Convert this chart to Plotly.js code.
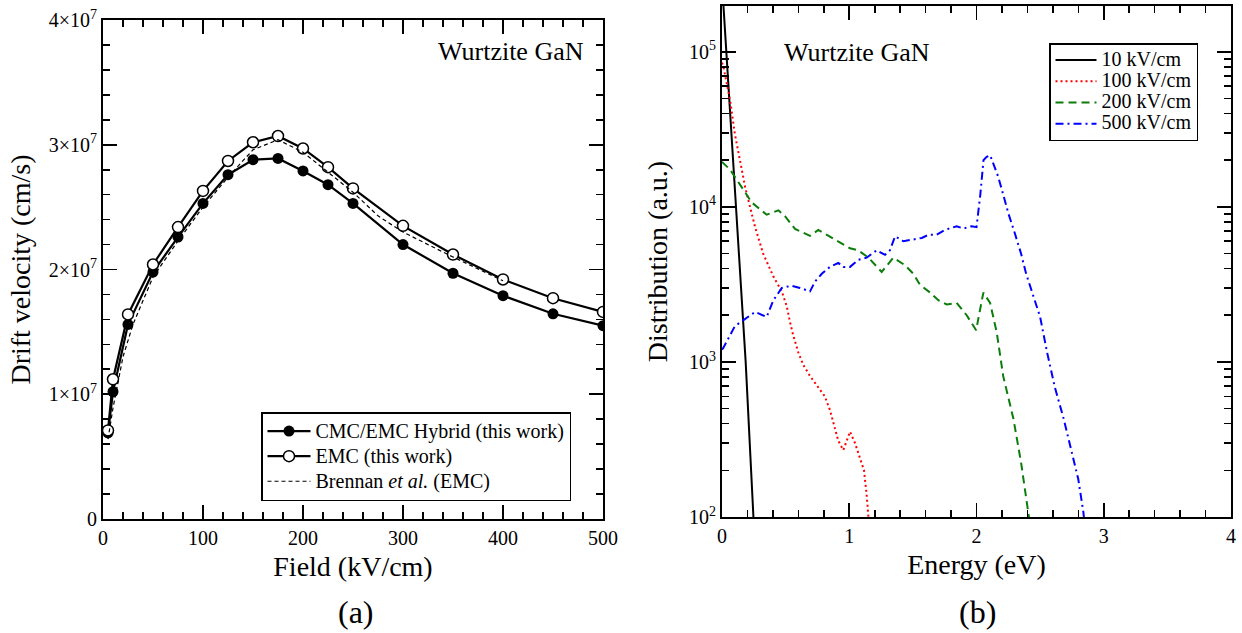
<!DOCTYPE html>
<html><head><meta charset="utf-8">
<script src="https://cdn.plot.ly/plotly-3.0.1.min.js"></script>
<style>body{margin:0;background:#fff}#chart{width:1242px;height:633px}</style>
</head><body><div id="chart"></div>
<script>
// ---- Panel (a): drift velocity vs field ----
const fieldA = [5,10,25,50,75,100,125,150,175,200,225,250,300,350,400,450,500];
const hybridVel = [6.9e6,10.2e6,15.6e6,19.8e6,22.6e6,25.3e6,27.6e6,28.8e6,28.9e6,27.9e6,26.8e6,25.3e6,22.0e6,19.7e6,17.9e6,16.45e6,15.5e6];
const emcVel = [7.1e6,11.2e6,16.4e6,20.4e6,23.4e6,26.3e6,28.7e6,30.2e6,30.7e6,29.7e6,28.2e6,26.5e6,23.5e6,21.2e6,19.2e6,17.7e6,16.6e6];
const fieldBrennan = [5,10,20,30,50,75,100,125,150,175,200,225,250,275,300,350,385,400];
const brennanVel = [6.4e6,8.9e6,13.0e6,15.6e6,19.4e6,22.3e6,25.0e6,27.4e6,29.6e6,30.4e6,29.4e6,27.8e6,26.2e6,24.3e6,23.0e6,21.0e6,19.7e6,19.1e6];
const velTickVals = [0,1e7,2e7,3e7,4e7];
const velTickText = ['0','1×10<sup>7</sup>','2×10<sup>7</sup>','3×10<sup>7</sup>','4×10<sup>7</sup>'];
const fieldTickVals = [0,100,200,300,400,500];
const namesA = ['CMC/EMC Hybrid (this work)','EMC (this work)','Brennan <i>et al.</i> (EMC)'];

// ---- Panel (b): energy distribution ----
const e10 = [0,0.034,0.076,0.11,0.141,0.186,0.247,0.26];
const d10 = [2.8e5,1.0e5,2.95e4,1.0e4,4.6e3,1.0e3,1.0e2,70];
const e100 = [0,0.01,0.063,0.101,0.141,0.181,0.22,0.26,0.323,0.404,0.47,0.508,0.535,0.56,0.60,0.639,0.692,0.757,0.808,0.848,0.875,0.914,0.953,0.993,1.006,1.045,1.085,1.116,1.137,1.151,1.16];
const d100 = [8.5e4,8.1e4,4.9e4,2.95e4,2.0e4,1.35e4,1.0e4,7.4e3,5.0e3,3.55e3,2.85e3,2.3e3,1.8e3,1.48e3,1.15e3,955,810,690,600,490,410,310,270,325,355,300,240,200,138,105,80];
const e200 = [0,0.063,0.168,0.232,0.351,0.444,0.495,0.574,0.692,0.757,0.838,0.914,1.006,1.07,1.151,1.255,1.346,1.438,1.504,1.555,1.635,1.70,1.766,1.844,1.923,1.997,2.054,2.107,2.159,2.21,2.29,2.35,2.41,2.42];
const d200 = [1.95e4,1.74e4,1.29e4,1.07e4,8.9e3,9.5e3,8.7e3,7.2e3,6.5e3,7.1e3,6.5e3,6.0e3,5.4e3,5.25e3,4.7e3,3.8e3,4.7e3,4.2e3,3.7e3,3.15e3,2.8e3,2.5e3,2.35e3,2.4e3,2.0e3,1.6e3,2.8e3,2.4e3,1.55e3,810,430,225,105,90];
const e500 = [0,0.01,0.101,0.182,0.26,0.351,0.404,0.47,0.545,0.613,0.692,0.731,0.784,0.848,0.914,0.953,1.006,1.07,1.137,1.216,1.281,1.32,1.36,1.425,1.504,1.57,1.622,1.687,1.752,1.844,1.897,1.962,2.0,2.03,2.055,2.08,2.107,2.17,2.21,2.25,2.30,2.35,2.39,2.44,2.50,2.555,2.615,2.685,2.745,2.80,2.84,2.85];
const d500 = [1.2e3,1.23e3,1.7e3,1.9e3,2.1e3,1.95e3,2.5e3,3.0e3,3.1e3,3.0e3,2.85e3,3.3e3,3.7e3,4.1e3,4.35e3,4.1e3,4.1e3,4.55e3,4.7e3,5.25e3,4.9e3,5.25e3,6.45e3,6.0e3,6.2e3,6.3e3,6.6e3,6.6e3,7.1e3,7.5e3,7.25e3,7.5e3,7.4e3,1.2e4,2.0e4,2.1e4,2.15e4,1.57e4,1.2e4,9.1e3,6.8e3,5.0e3,3.7e3,2.8e3,1.95e3,1.15e3,690,430,265,175,107,90];
const namesB = ['10 kV/cm','100 kV/cm','200 kV/cm','500 kV/cm'];
const energyTickVals = [0,1,2,3,4];
const distTickVals = [100,1000,10000,100000];
const distTickText = ['10<sup>2</sup>','10<sup>3</sup>','10<sup>4</sup>','10<sup>5</sup>'];
const distMinorVals = [200,300,400,500,600,700,800,900,2000,3000,4000,5000,6000,7000,8000,9000,20000,30000,40000,50000,60000,70000,80000,90000,200000];

const SERIF = 'Liberation Serif, Times New Roman, serif';
const W = 1242, H = 633;
const big = s => '<span style="font-size:20px">' + s + '</span>';

const traces = [
  {x: fieldA, y: hybridVel, mode:'lines+markers', name:big(namesA[0]), xaxis:'x', yaxis:'y', legend:'legend',
   line:{color:'#000', width:2.2}, marker:{symbol:'circle', size:11, color:'#000'}},
  {x: fieldA, y: emcVel, mode:'lines+markers', name:big(namesA[1]), xaxis:'x', yaxis:'y', legend:'legend',
   line:{color:'#000', width:2.2}, marker:{symbol:'circle', size:11, color:'#fff', line:{color:'#000', width:1.5}}},
  {x: fieldBrennan, y: brennanVel, mode:'lines', name:big(namesA[2]), xaxis:'x', yaxis:'y', legend:'legend',
   line:{color:'#000', width:1.2, dash:'4px,3px'}},
  {x: e10, y: d10, mode:'lines', name:big(namesB[0]), xaxis:'x2', yaxis:'y2', legend:'legend2',
   line:{color:'#000', width:2}},
  {x: e100, y: d100, mode:'lines', name:big(namesB[1]), xaxis:'x2', yaxis:'y2', legend:'legend2',
   line:{color:'#ff0000', width:2, dash:'2px,3px'}},
  {x: e200, y: d200, mode:'lines', name:big(namesB[2]), xaxis:'x2', yaxis:'y2', legend:'legend2',
   line:{color:'#0a7d0a', width:2, dash:'8px,5px'}},
  {x: e500, y: d500, mode:'lines', name:big(namesB[3]), xaxis:'x2', yaxis:'y2', legend:'legend2',
   line:{color:'#0000ff', width:2, dash:'8px,4px,2px,4px'}}
];

const axBase = {showline:true, linecolor:'#000', linewidth:2, mirror:'allticks', ticks:'inside', ticklen:14, tickwidth:1.6, tickcolor:'#000',
  showgrid:false, zeroline:false, tickfont:{family:SERIF, size:20, color:'#000'}, automargin:false};
const minorBase = {ticks:'inside', ticklen:7, tickwidth:1.6, tickcolor:'#000'};
const titleFont = {family:SERIF, size:28, color:'#000'};

const layout = {
  width:W, height:H, margin:{l:0,r:0,t:0,b:0}, paper_bgcolor:'#fff', plot_bgcolor:'#fff',
  font:{family:SERIF, color:'#000'},
  xaxis: Object.assign({}, axBase, {domain:[103/W, 603/W], range:[0,500], tickmode:'array', tickvals:fieldTickVals,
    minor:Object.assign({tickmode:'linear', tick0:0, dtick:20}, minorBase),
    title:{text:'Field (kV/cm)', font:titleFont, standoff:8}, anchor:'y'}),
  yaxis: Object.assign({}, axBase, {domain:[1-519/H, 1-20/H], range:[0,4e7], tickmode:'array', tickvals:velTickVals, ticktext:velTickText,
    minor:Object.assign({tickmode:'linear', tick0:0, dtick:2e6}, minorBase),
    title:{text:'Drift velocity (cm/s)', font:titleFont, standoff:10}, anchor:'x'}),
  xaxis2: Object.assign({}, axBase, {domain:[722/W, 1231/W], range:[0,4], tickmode:'array', tickvals:energyTickVals,
    minor:Object.assign({tickmode:'linear', tick0:0, dtick:0.2}, minorBase),
    title:{text:'Energy (eV)', font:titleFont, standoff:8}, anchor:'y2'}),
  yaxis2: Object.assign({}, axBase, {type:'log', domain:[1-517/H, 1-6/H], range:[2, 5.295], tickmode:'array', tickvals:distTickVals, ticktext:distTickText,
    minor:Object.assign({tickmode:'array', tickvals:distMinorVals}, minorBase),
    title:{text:'Distribution (a.u.)', font:titleFont, standoff:13}, anchor:'x2'}),
  legend: {x:261/W, y:1-412/H, xanchor:'left', yanchor:'top', bgcolor:'#fff', bordercolor:'#000', borderwidth:1.5,
    font:{family:SERIF, size:17, color:'#000'}, itemwidth:43, tracegroupgap:0},
  legend2: {x:1049/W, y:1-43/H, xanchor:'left', yanchor:'top', bgcolor:'#fff', bordercolor:'#000', borderwidth:1.5,
    font:{family:SERIF, size:14, color:'#000'}, itemwidth:41, tracegroupgap:0},
  showlegend:true,
  annotations:[
    {text:'Wurtzite GaN', xref:'paper', yref:'paper', x:511/W, y:1-51/H, xanchor:'center', yanchor:'middle', showarrow:false, font:{family:SERIF, size:26, color:'#000'}},
    {text:'Wurtzite GaN', xref:'paper', yref:'paper', x:857/W, y:1-52/H, xanchor:'center', yanchor:'middle', showarrow:false, font:{family:SERIF, size:26, color:'#000'}},
    {text:'(a)', xref:'paper', yref:'paper', x:356/W, y:1-612/H, xanchor:'center', yanchor:'middle', showarrow:false, font:{family:SERIF, size:32, color:'#000'}},
    {text:'(b)', xref:'paper', yref:'paper', x:977/W, y:1-612/H, xanchor:'center', yanchor:'middle', showarrow:false, font:{family:SERIF, size:32, color:'#000'}}
  ]
};

Plotly.newPlot('chart', traces, layout, {displayModeBar:false, staticPlot:true});
</script>
</body></html>
